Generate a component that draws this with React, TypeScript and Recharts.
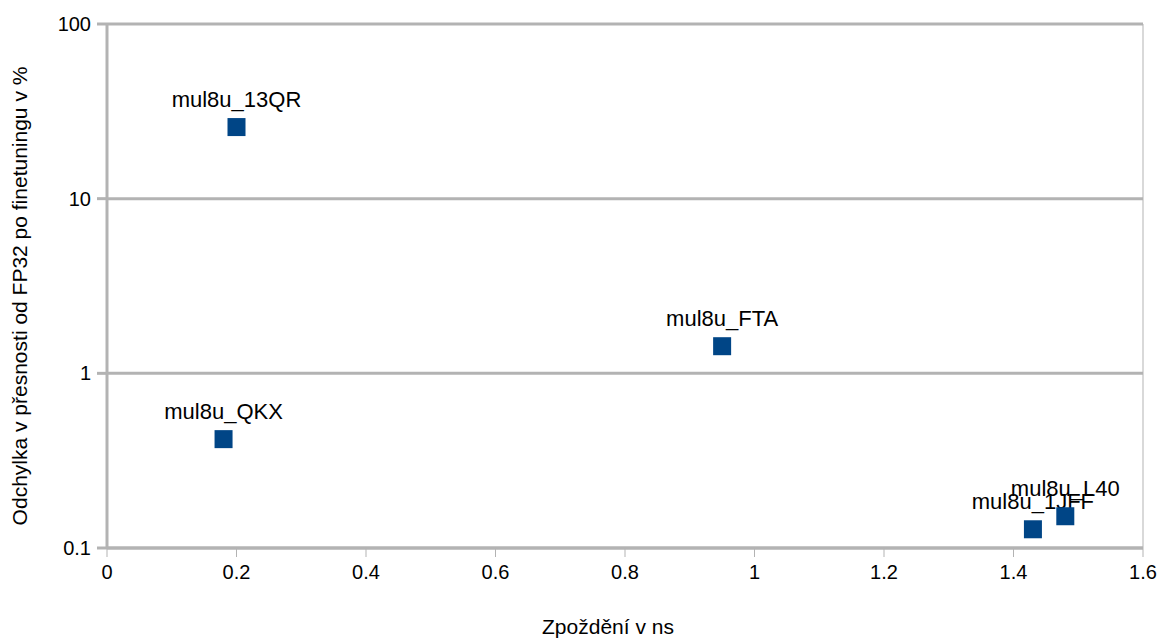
import { ScatterChart, Scatter, XAxis, YAxis, CartesianGrid, ReferenceLine } from 'recharts';

const names = ['mul8u_13QR', 'mul8u_QKX', 'mul8u_FTA', 'mul8u_1JFF', 'mul8u_L40'];
const delays = [0.2, 0.18, 0.95, 1.43, 1.48];
const deviations = [25.7, 0.42, 1.43, 0.128, 0.152];

const xTicks = [0, 0.2, 0.4, 0.6, 0.8, 1, 1.2, 1.4, 1.6];
const yTicks = [0.1, 1, 10, 100];

const data = names.map((name, i) => ({ name, x: delays[i], y: deviations[i] }));

const FONT = '"Liberation Sans", Arial, sans-serif';
const GRID = '#b3b3b3';

function SquareWithLabel(props: any) {
  const { cx, cy, payload } = props;
  return (
    <g>
      <text x={cx} y={cy - 20} textAnchor="middle" fontSize={22} fontFamily={FONT} fill="#000">
        {payload.name}
      </text>
      <rect x={cx - 9} y={cy - 9} width={18} height={18} fill="#004586" />
    </g>
  );
}

export default function App() {
  return (
    <div style={{ position: 'absolute', left: 0, top: 0, background: '#fff' }}>
      <ScatterChart width={1173} height={638} margin={{ top: 24, right: 30, bottom: 0, left: 0 }}>
        <CartesianGrid vertical={false} stroke={GRID} strokeWidth={3} />
        <XAxis
          type="number"
          dataKey="x"
          domain={[0, 1.6]}
          ticks={xTicks}
          height={90}
          stroke={GRID}
          axisLine={{ stroke: GRID, strokeWidth: 3 }}
          tickLine={{ stroke: GRID, strokeWidth: 1 }}
          tickSize={9}
          tickMargin={8}
          tick={{ fill: '#000', fontSize: 20, fontFamily: FONT }}
          label={{
            value: 'Zpoždění v ns',
            position: 'insideBottom',
            offset: 4,
            dx: -17,
            style: { fill: '#000', fontSize: 21, fontFamily: FONT },
          }}
        />
        <YAxis
          type="number"
          dataKey="y"
          scale="log"
          domain={[0.1, 100]}
          ticks={yTicks}
          width={107}
          allowDataOverflow
          axisLine={{ stroke: GRID, strokeWidth: 3 }}
          tickLine={{ stroke: GRID, strokeWidth: 3 }}
          tickSize={10}
          tickMargin={6}
          tick={{ fill: '#000', fontSize: 20, fontFamily: FONT }}
          label={{
            value: 'Odchylka v přesnosti od FP32 po finetuningu v %',
            angle: -90,
            position: 'insideLeft',
            offset: 20,
            dy: 10,
            style: { fill: '#000', fontSize: 21, fontFamily: FONT, textAnchor: 'middle' },
          }}
        />
        <ReferenceLine x={1.6} stroke={GRID} strokeWidth={1} />
        <Scatter data={data} shape={SquareWithLabel} isAnimationActive={false} />
      </ScatterChart>
    </div>
  );
}
